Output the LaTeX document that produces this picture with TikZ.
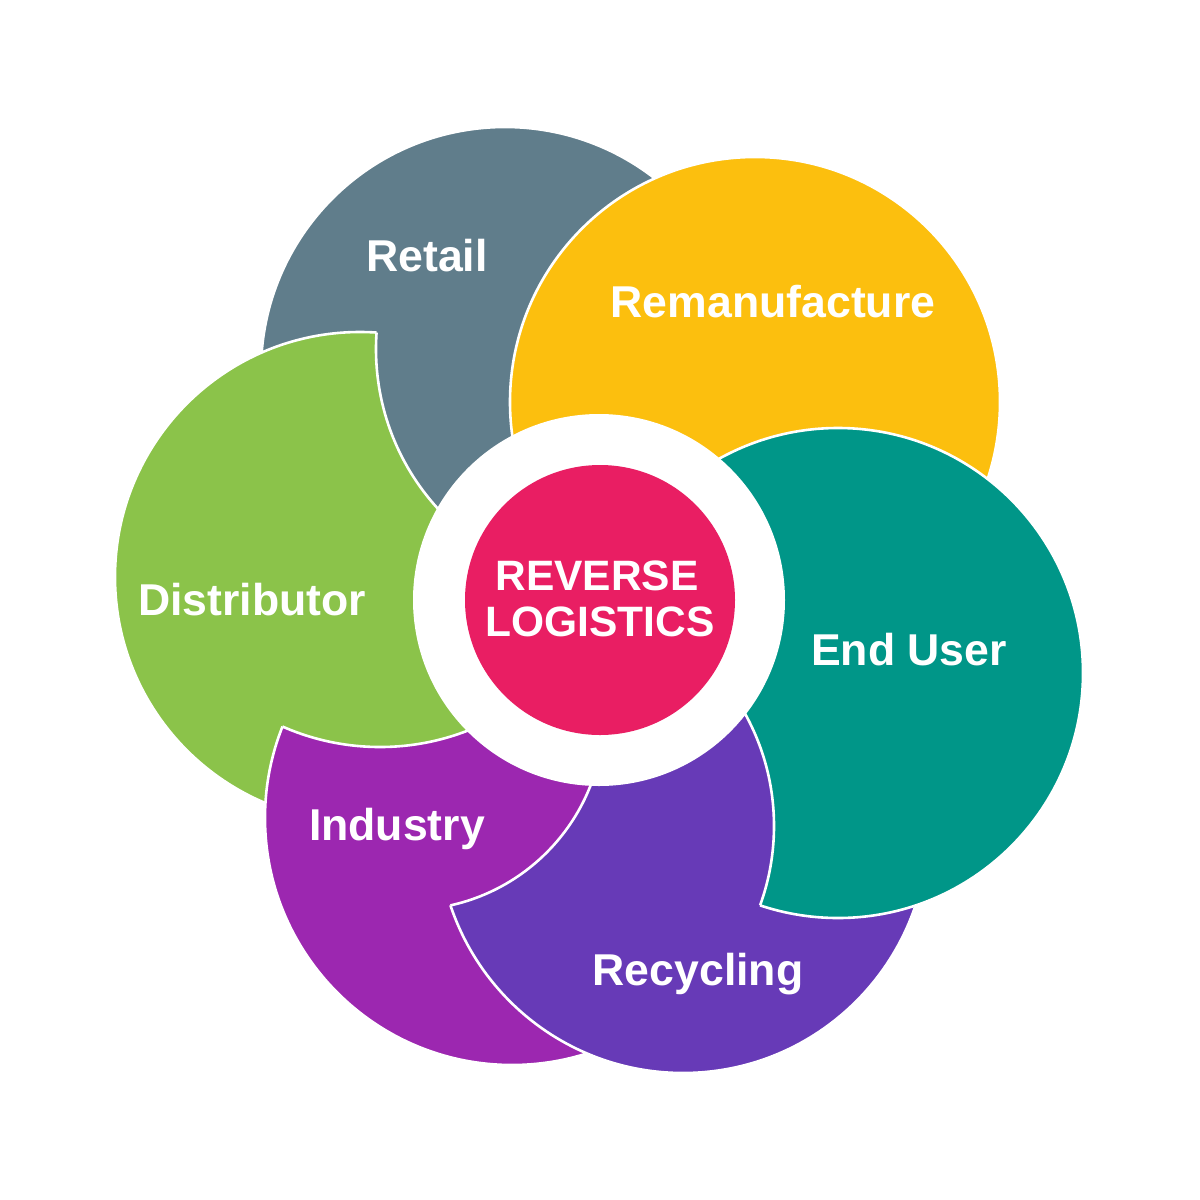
\documentclass[tikz,border=0pt]{standalone}
\usepackage{fontspec}
\setmainfont{Liberation Sans}
\definecolor{cgray}{HTML}{607D8B}
\definecolor{cyellow}{HTML}{FCBF0E}
\definecolor{cgreen}{HTML}{8BC34A}
\definecolor{cmagenta}{HTML}{9C27B0}
\definecolor{cpurple}{HTML}{673AB7}
\definecolor{cteal}{HTML}{009688}
\definecolor{cpink}{HTML}{E91E63}
\newcommand\petalbite[5]{%
  \begin{scope}[even odd rule]
    \clip (0,0) rectangle (1200,1200) (#4) circle[radius=#5pt];
    \filldraw[petal, fill=#1] (#2) circle[radius=#3pt];
  \end{scope}
  \begin{scope}
    \clip (#2) circle[radius=#3pt];
    \draw[petal] (#4) circle[radius=#5pt];
  \end{scope}}
\begin{document}
\begin{tikzpicture}[x=1pt,y=-1pt,
  petal/.style={draw=white, line width=2.6pt},
  lbl/.style={text=white, font=\fontsize{44.6}{48}\selectfont\bfseries, anchor=base, inner sep=0pt},
  clbl/.style={text=white, font=\fontsize{42.5}{46}\selectfont\bfseries, anchor=base, inner sep=0pt}]
\fill[white] (0,0) rectangle (1200,1200);
\useasboundingbox (0,0) rectangle (1200,1200);
% petal centres
\coordinate (cRetail) at (505,371);
\coordinate (cReman) at (755,402);
\coordinate (cDist) at (360,577);
\coordinate (bDist) at (613,349);
\coordinate (cInd) at (512,818);
\coordinate (bInd) at (380,505);
\coordinate (cRec) at (683,828);
\coordinate (bRec) at (408,714);
\coordinate (cEnd) at (838,673);
\coordinate (bEnd) at (542,826);
\coordinate (hub) at (599,600);
% petals
\filldraw[petal, fill=cgray] (cRetail) circle[radius=244pt];
\filldraw[petal, fill=cyellow] (cReman) circle[radius=245pt];
\petalbite{cgreen}{cDist}{245}{bDist}{237}
\petalbite{cmagenta}{cInd}{247}{bInd}{242}
\petalbite{cpurple}{cRec}{245}{bRec}{196}
\petalbite{cteal}{cEnd}{245}{bEnd}{232}
% hub
\fill[white] (hub) circle[radius=186pt];
\fill[cpink] (600,600) circle[radius=135pt];
% labels
\node[lbl] (tRetail) at (427,271) {Retail};
\node[lbl] (tReman) at (773,317) {Remanufacture};
\node[lbl] (tDist) at (252,615) {Distributor};
\node[lbl] (tEnd) at (909,665) {End User};
\node[lbl] (tInd) at (397,840) {Industry};
\node[lbl] (tRec) at (698,985) {Recycling};
\node[clbl] (tRev) at (597,590) {REVERSE};
\node[clbl] (tLog) at (600,636) {LOGISTICS};
\end{tikzpicture}
\end{document}
